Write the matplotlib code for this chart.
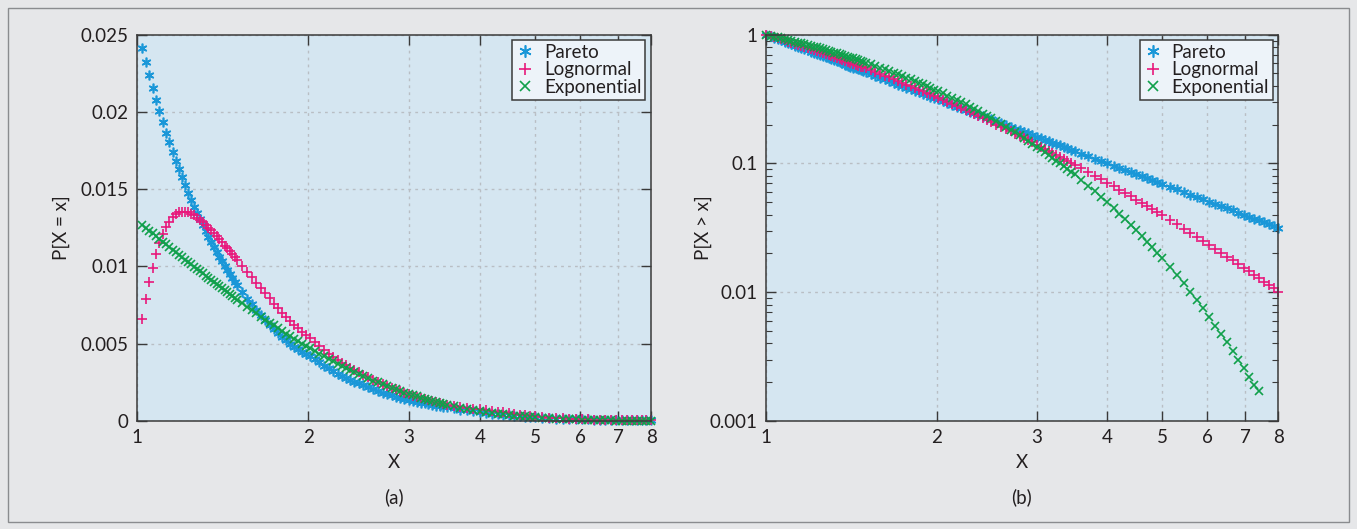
import numpy as np
from matplotlib import pyplot as plt
from matplotlib.patches import Rectangle
from matplotlib.ticker import NullLocator, LogLocator

plt.rcParams['font.family'] = ['Lato', 'DejaVu Sans']

# puntos en x (compartidos por las tres series)
x_pmf = [1.02, 1.035, 1.05, 1.065, 1.08, 1.095, 1.11, 1.125, 1.14, 1.155,
         1.17, 1.185, 1.2, 1.215, 1.23, 1.245, 1.26, 1.275, 1.29, 1.305,
         1.32, 1.335, 1.35, 1.365, 1.38, 1.395, 1.41, 1.425, 1.44, 1.455,
         1.47, 1.485, 1.5,
         1.53, 1.56, 1.59, 1.62, 1.65, 1.68, 1.71, 1.74, 1.77, 1.8,
         1.83, 1.86, 1.89, 1.92, 1.95, 1.98, 2.01,
         2.05, 2.09, 2.13, 2.17, 2.21, 2.25, 2.29, 2.33, 2.37, 2.41, 2.45, 2.49,
         2.55, 2.6, 2.65, 2.7, 2.75, 2.8, 2.85, 2.9, 2.95, 3.0,
         3.05, 3.1, 3.15, 3.2, 3.25, 3.3, 3.35, 3.4, 3.45, 3.5,
         3.6, 3.7, 3.8, 3.9, 4.0, 4.1, 4.2, 4.3, 4.4, 4.5, 4.6, 4.7, 4.8, 4.9, 5.0,
         5.15, 5.3, 5.45, 5.6, 5.75, 5.9, 6.05, 6.2, 6.35, 6.5,
         6.65, 6.8, 6.95, 7.1, 7.25, 7.4, 7.55, 7.7, 7.85, 8.0]

# P[X = x] en unidades de 1e-3
pareto_pmf = [24.12, 23.22, 22.36, 21.54, 20.76, 20.03, 19.32, 18.66, 18.03, 17.41,
              16.84, 16.29, 15.76, 15.25, 14.77, 14.31, 13.87, 13.44, 13.04, 12.65,
              12.27, 11.92, 11.57, 11.24, 10.92, 10.62, 10.33, 10.04, 9.77, 9.51,
              9.26, 9.02, 8.78,
              8.34, 7.92, 7.54, 7.18, 6.84, 6.52, 6.23, 5.95, 5.69, 5.45,
              5.22, 5.00, 4.80, 4.63, 4.47, 4.32, 4.18,
              3.99, 3.79, 3.59, 3.40, 3.23, 3.07, 2.93, 2.79, 2.66, 2.54, 2.43, 2.32,
              2.17, 2.05, 1.94, 1.84, 1.74, 1.65, 1.57, 1.50, 1.43, 1.37,
              1.31, 1.25, 1.19, 1.14, 1.09, 1.04, 1.00, 0.96, 0.92, 0.88,
              0.81, 0.74, 0.68, 0.62, 0.57, 0.52, 0.48, 0.44, 0.40, 0.37,
              0.34, 0.31, 0.28, 0.26, 0.24,
              0.21, 0.18, 0.16, 0.14, 0.13, 0.12, 0.11, 0.10, 0.09, 0.09,
              0.08, 0.08, 0.07, 0.07, 0.06, 0.06, 0.06, 0.05, 0.05, 0.05]

lognormal_pmf = [6.6, 7.9, 9.0, 9.9, 10.8, 11.5, 12.1, 12.55, 12.9, 13.2,
                 13.4, 13.5, 13.55, 13.55, 13.5, 13.4, 13.3, 13.15, 13.0, 12.85,
                 12.7, 12.5, 12.35, 12.15, 11.95, 11.75, 11.55, 11.35, 11.2, 11.0,
                 10.8, 10.6, 10.4,
                 10.05, 9.65, 9.3, 8.95, 8.6, 8.25, 7.95, 7.6, 7.3, 7.0,
                 6.75, 6.5, 6.2, 6.0, 5.75, 5.55, 5.4,
                 5.1, 4.85, 4.6, 4.35, 4.15, 3.95, 3.75, 3.6, 3.45, 3.3, 3.15, 3.0,
                 2.82, 2.68, 2.54, 2.41, 2.28, 2.16, 2.04, 1.93, 1.82, 1.72,
                 1.63, 1.55, 1.47, 1.40, 1.33, 1.27, 1.21, 1.16, 1.11, 1.06,
                 0.97, 0.90, 0.84, 0.79, 0.75, 0.70, 0.65, 0.60, 0.55, 0.50,
                 0.45, 0.41, 0.37, 0.33, 0.29,
                 0.25, 0.22, 0.19, 0.17, 0.15, 0.13, 0.11, 0.10, 0.09, 0.08,
                 0.08, 0.07, 0.07, 0.06, 0.06, 0.06, 0.05, 0.05, 0.05, 0.05]

exponential_pmf = [12.69, 12.50, 12.32, 12.14, 11.95, 11.78, 11.60, 11.43, 11.26, 11.09,
                   10.93, 10.76, 10.60, 10.44, 10.29, 10.14, 9.99, 9.84, 9.69, 9.55,
                   9.40, 9.26, 9.13, 8.99, 8.86, 8.72, 8.59, 8.47, 8.34, 8.22,
                   8.09, 7.97, 7.85,
                   7.62, 7.40, 7.18, 6.97, 6.76, 6.56, 6.37, 6.18, 6.00, 5.82,
                   5.65, 5.48, 5.32, 5.16, 5.01, 4.86, 4.72,
                   4.53, 4.35, 4.18, 4.02, 3.86, 3.71, 3.57, 3.43, 3.29, 3.16, 3.04, 2.92,
                   2.75, 2.61, 2.49, 2.37, 2.25, 2.14, 2.04, 1.94, 1.84, 1.75,
                   1.67, 1.59, 1.51, 1.43, 1.36, 1.30, 1.24, 1.17, 1.12, 1.06,
                   0.96, 0.87, 0.79, 0.71, 0.64, 0.58, 0.53, 0.48, 0.43, 0.39,
                   0.35, 0.32, 0.29, 0.26, 0.24,
                   0.20, 0.18, 0.15, 0.13, 0.11, 0.10, 0.08, 0.07, 0.06, 0.05,
                   0.05, 0.04, 0.03, 0.03, 0.02, 0.02, 0.02, 0.02, 0.01, 0.01]

# P[X > x], empieza en x = 1
x_ccdf = [1.0] + x_pmf

pareto_ccdf = [1.0, 0.968, 0.945, 0.922, 0.901, 0.880, 0.860, 0.841, 0.822, 0.805,
               0.787, 0.771, 0.754, 0.739, 0.724, 0.709, 0.695, 0.681, 0.668, 0.655,
               0.643, 0.631, 0.619, 0.608, 0.597, 0.586, 0.575, 0.565, 0.555, 0.546,
               0.537, 0.528, 0.519, 0.510,
               0.494, 0.478, 0.463, 0.449, 0.435, 0.423, 0.410, 0.399, 0.388, 0.377,
               0.367, 0.357, 0.348, 0.339, 0.330, 0.322, 0.314,
               0.304, 0.294, 0.285, 0.276, 0.268, 0.260, 0.253, 0.246, 0.239, 0.232, 0.226, 0.220,
               0.211, 0.205, 0.198, 0.192, 0.186, 0.181, 0.176, 0.171, 0.166, 0.161,
               0.157, 0.153, 0.149, 0.145, 0.141, 0.138, 0.134, 0.131, 0.128, 0.125,
               0.119, 0.114, 0.109, 0.104, 0.100, 0.0961, 0.0923, 0.0888, 0.0855, 0.0823,
               0.0794, 0.0766, 0.0740, 0.0715, 0.0691,
               0.0658, 0.0628, 0.0599, 0.0573, 0.0548, 0.0525, 0.0504, 0.0484, 0.0465, 0.0447,
               0.0431, 0.0415, 0.0400, 0.0386, 0.0373, 0.0361, 0.0349, 0.0338, 0.0327, 0.0317]

lognormal_ccdf = [1.0, 0.974, 0.955, 0.937, 0.919, 0.901, 0.884, 0.868, 0.851, 0.836,
                  0.820, 0.805, 0.790, 0.776, 0.762, 0.748, 0.734, 0.721, 0.708, 0.696,
                  0.683, 0.672, 0.660, 0.648, 0.637, 0.626, 0.615, 0.605, 0.595, 0.585,
                  0.575, 0.565, 0.556, 0.547,
                  0.529, 0.512, 0.495, 0.480, 0.465, 0.450, 0.436, 0.423, 0.410, 0.398,
                  0.386, 0.375, 0.364, 0.353, 0.343, 0.333, 0.324,
                  0.312, 0.300, 0.289, 0.279, 0.269, 0.259, 0.250, 0.242, 0.233, 0.225, 0.218, 0.211,
                  0.200, 0.192, 0.184, 0.177, 0.170, 0.164, 0.157, 0.151, 0.146, 0.140,
                  0.135, 0.130, 0.125, 0.121, 0.117, 0.113, 0.109, 0.105, 0.101, 0.098,
                  0.0916, 0.0857, 0.0802, 0.0752, 0.0706, 0.0664, 0.0624, 0.0588, 0.0554, 0.0522,
                  0.0493, 0.0466, 0.0441, 0.0417, 0.0395,
                  0.0365, 0.0337, 0.0312, 0.0289, 0.0269, 0.0250, 0.0232, 0.0217, 0.0202, 0.0189,
                  0.0177, 0.0165, 0.0155, 0.0145, 0.0136, 0.0128, 0.0121, 0.0114, 0.0107, 0.0101]

exponential_ccdf = [1.0, 0.980, 0.966, 0.951, 0.937, 0.923, 0.909, 0.896, 0.883, 0.869,
                    0.856, 0.844, 0.831, 0.819, 0.807, 0.795, 0.783, 0.771, 0.760, 0.748,
                    0.737, 0.726, 0.715, 0.705, 0.694, 0.684, 0.674, 0.664, 0.654, 0.644,
                    0.634, 0.625, 0.616, 0.607,
                    0.589, 0.571, 0.554, 0.538, 0.522, 0.507, 0.492, 0.477, 0.463, 0.449,
                    0.436, 0.423, 0.411, 0.399, 0.387, 0.375, 0.364,
                    0.350, 0.336, 0.323, 0.310, 0.298, 0.287, 0.275, 0.265, 0.254, 0.244, 0.235, 0.225,
                    0.212, 0.202, 0.192, 0.183, 0.174, 0.165, 0.157, 0.150, 0.142, 0.135,
                    0.129, 0.122, 0.117, 0.111, 0.105, 0.100, 0.0954, 0.0907, 0.0863, 0.0821,
                    0.0743, 0.0672, 0.0608, 0.0550, 0.0498, 0.0450, 0.0408, 0.0369, 0.0334, 0.0302,
                    0.0273, 0.0247, 0.0224, 0.0202, 0.0183,
                    0.0158, 0.0136, 0.0117, 0.0101, 0.0087, 0.0075, 0.0064, 0.0055, 0.0047, 0.0041,
                    0.0035, 0.0030, 0.0026, 0.0022, 0.0019, 0.0017]

series_names = ['Pareto', 'Lognormal', 'Exponential']
x_ticks = [1, 2, 3, 4, 5, 6, 7, 8]
pmf_ticks = [0, 0.005, 0.01, 0.015, 0.02, 0.025]
pmf_tick_labels = ['0', '0.005', '0.01', '0.015', '0.02', '0.025']
ccdf_ticks = [0.001, 0.01, 0.1, 1]
ccdf_tick_labels = ['0.001', '0.01', '0.1', '1']

colores = ['#1a97d8', '#e8197c', '#10a04b']
marcadores = [(6, 2, 0), '+', 'x']
tamanos = [7, 7, 6]

fondo = '#e6e7e9'
fondo_ejes = '#d5e6f1'
texto = '#231f20'


def formato_ejes(ax):
    ax.set_facecolor(fondo_ejes)
    ax.set_xscale('log')
    ax.set_xlim(1, 8)
    ax.set_xticks(x_ticks)
    ax.set_xticklabels([str(t) for t in x_ticks])
    ax.xaxis.set_minor_locator(NullLocator())
    ax.grid(True, which='major', color='#b9bec4', linestyle=(0, (2, 3)), linewidth=1)
    ax.tick_params(which='both', direction='in', top=True, right=True,
                   colors='#3a3a3a', labelcolor=texto, labelsize=13.5, pad=6)
    ax.tick_params(which='major', length=7, width=1)
    ax.tick_params(which='minor', length=4, width=0.8)
    for spine in ax.spines.values():
        spine.set_color('#3a3a3a')
        spine.set_linewidth(1.1)
    leyenda = ax.legend(loc='upper right', fontsize=13.5, frameon=True, fancybox=False,
                        edgecolor='#3a3a3a', facecolor='#edf3f9', framealpha=1,
                        borderaxespad=0.3, borderpad=0.2, labelspacing=0.02,
                        handlelength=1.0, handletextpad=0.5, markerscale=1.25, numpoints=1)
    leyenda.get_frame().set_linewidth(1.1)
    for t in leyenda.get_texts():
        t.set_color(texto)


fig = plt.figure(figsize=(13.57, 5.29), dpi=100, facecolor=fondo)
fig.patches.append(Rectangle((0.0059, 0.0132), 0.9882, 0.9717, transform=fig.transFigure,
                             fill=False, edgecolor='#8a8c8f', linewidth=1))

ax1 = fig.add_axes([0.1010, 0.2042, 0.3788, 0.7303])
ax2 = fig.add_axes([0.5643, 0.2042, 0.3777, 0.7303])

datos_pmf = [pareto_pmf, lognormal_pmf, exponential_pmf]
for valores, nombre, color, marcador, tam in zip(datos_pmf, series_names, colores, marcadores, tamanos):
    ax1.plot(x_pmf, np.array(valores) / 1000, linestyle='none', marker=marcador,
             markersize=tam, markeredgewidth=1.2, color=color, label=nombre, clip_on=False)

datos_ccdf = [pareto_ccdf, lognormal_ccdf, exponential_ccdf]
for valores, nombre, color, marcador, tam in zip(datos_ccdf, series_names, colores, marcadores, tamanos):
    ax2.plot(x_ccdf[:len(valores)], valores, linestyle='none', marker=marcador,
             markersize=tam, markeredgewidth=1.2, color=color, label=nombre, clip_on=False)

ax1.set_ylim(0, 0.025)
ax1.set_yticks(pmf_ticks)
ax1.set_yticklabels(pmf_tick_labels)
formato_ejes(ax1)

ax2.set_yscale('log')
ax2.set_ylim(0.001, 1)
ax2.set_yticks(ccdf_ticks)
ax2.set_yticklabels(ccdf_tick_labels)
ax2.yaxis.set_minor_locator(LogLocator(base=10, subs=np.arange(2, 10)))
ax2.yaxis.set_minor_formatter(plt.NullFormatter())
formato_ejes(ax2)

ax1.set_xlabel('X', fontsize=13.5, color=texto)
ax2.set_xlabel('X', fontsize=13.5, color=texto)
ax1.xaxis.set_label_coords(0.5, -0.085)
ax2.xaxis.set_label_coords(0.5, -0.085)
ax1.set_ylabel('P[X = x]', fontsize=13.5, color=texto)
ax2.set_ylabel('P[X > x]', fontsize=13.5, color=texto)
ax1.yaxis.set_label_coords(-0.13, 0.5)
ax2.yaxis.set_label_coords(-0.104, 0.5)

fig.text(0.2904, 0.0605, '(a)', ha='center', va='center', fontsize=13.5, color=texto)
fig.text(0.7531, 0.0605, '(b)', ha='center', va='center', fontsize=13.5, color=texto)

plt.savefig('out.png', dpi=100, facecolor=fondo)
